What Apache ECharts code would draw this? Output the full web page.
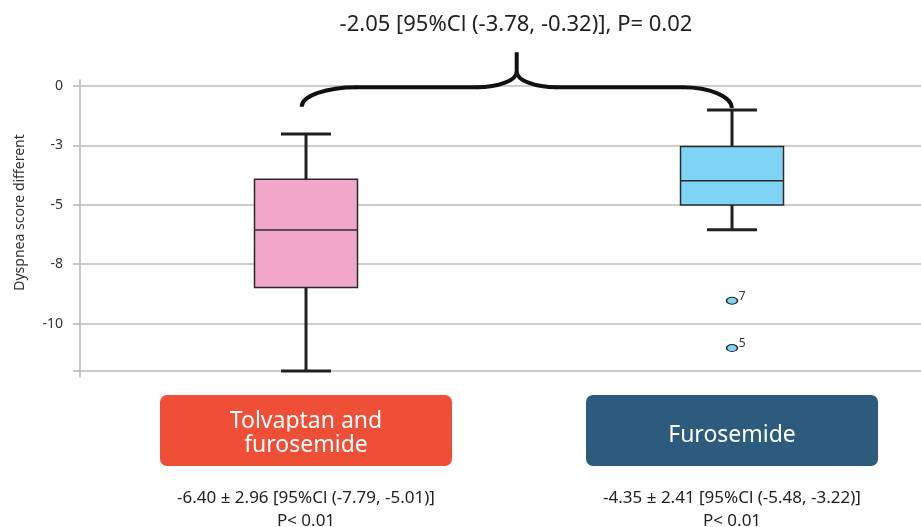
<!DOCTYPE html>
<html><head><meta charset="utf-8">
<script src="https://cdn.jsdelivr.net/npm/echarts@6/dist/echarts.min.js"></script>
<style>html,body{margin:0;padding:0;background:#fff}#c{width:921px;height:527px}</style>
</head><body><div id="c"></div>
<script>
// ---- data ----
const categories = ['Tolvaptan and\nfurosemide', 'Furosemide'];
const groupPositions = [1, 2];
const boxMin = [-12.0, -6.05];
const boxQ1 = [-8.48, -5.01];
const boxMedian = [-6.06, -3.99];
const boxQ3 = [-3.93, -2.55];
const boxMax = [-2.02, -1.01];
const statLines = ['-6.40 ± 2.96 [95%Cl (-7.79, -5.01)]', '-4.35 ± 2.41 [95%Cl (-5.48, -3.22)]'];
const statP = ['P< 0.01', 'P< 0.01'];
const outlierX = [2, 2];
const outlierY = [-9.04, -11.03];
const outlierLabels = ['7', '5'];
const yLabelValues = [0, -2.5, -5, -7.5, -10];
const yTickValues = [0, -2.5, -5, -7.5, -10, -12];
const comparisonText = '-2.05 [95%Cl (-3.78, -0.32)], P= 0.02';
const yAxisName = 'Dyspnea score different';

// ---- styles ----
const FONT = 'Noto Sans';
const boxColors = ['#f2a6c9', '#7fd3f5'];
const labelColors = ['#ef4f37', '#2c5b7e'];

const chart = echarts.init(document.getElementById('c'), null, {renderer: 'canvas'});

const boxData = groupPositions.map((x, i) => [x, boxMin[i], boxQ1[i], boxMedian[i], boxQ3[i], boxMax[i]]);

function renderBox(params, api) {
  const x = api.value(0);
  const pMin = api.coord([x, api.value(1)]);
  const pQ1 = api.coord([x, api.value(2)]);
  const pMed = api.coord([x, api.value(3)]);
  const pQ3 = api.coord([x, api.value(4)]);
  const pMax = api.coord([x, api.value(5)]);
  const bw = 103, cw = 50, cx = pMed[0];
  const ws = {stroke: '#231f20', lineWidth: 3};
  return {type: 'group', children: [
    {type: 'line', shape: {x1: cx, y1: pMax[1], x2: cx, y2: pQ3[1]}, style: ws},
    {type: 'line', shape: {x1: cx, y1: pQ1[1], x2: cx, y2: pMin[1]}, style: ws},
    {type: 'line', shape: {x1: cx - cw / 2, y1: pMax[1], x2: cx + cw / 2, y2: pMax[1]}, style: ws},
    {type: 'line', shape: {x1: cx - cw / 2, y1: pMin[1], x2: cx + cw / 2, y2: pMin[1]}, style: ws},
    {type: 'rect', shape: {x: cx - bw / 2, y: pQ3[1], width: bw, height: pQ1[1] - pQ3[1]},
      style: {fill: boxColors[params.dataIndex], stroke: '#2b2b2b', lineWidth: 1.5}},
    {type: 'line', shape: {x1: cx - bw / 2, y1: pMed[1], x2: cx + bw / 2, y2: pMed[1]},
      style: {stroke: '#2b2b2b', lineWidth: 1.5}}
  ]};
}

function xLabel(v) {
  const i = groupPositions.indexOf(v);
  if (i < 0) return '';
  const lines = categories[i].split('\n');
  let head;
  if (lines.length === 2) head = '{a' + i + '|' + lines[0] + '}\n{b' + i + '|' + lines[1] + '}';
  else head = '{c' + i + '|' + lines[0] + '}';
  return head + '\n{gap| }\n{s|' + statLines[i] + '}\n{s|' + statP[i] + '}';
}

const rich = {
  gap: {height: 21.5, lineHeight: 21.5, fontSize: 8},
  s: {fontSize: 17, lineHeight: 23, height: 23, color: '#222', fontFamily: FONT}
};
labelColors.forEach((col, i) => {
  const base = {width: 290, color: '#fff', fontSize: 23, fontFamily: FONT, align: 'center',
    backgroundColor: col, borderColor: col, borderWidth: 1};
  rich['a' + i] = Object.assign({}, base, {height: 16, padding: [17.7, 0, 2.8, 0], lineHeight: 36.5, borderRadius: [6, 6, 0, 0]});
  rich['b' + i] = Object.assign({}, base, {height: 16, padding: [4.5, 0, 12, 0], lineHeight: 32.5, borderRadius: [0, 0, 6, 6]});
  rich['c' + i] = Object.assign({}, base, {height: 23, padding: [27.5, 0, 18.5, 0], lineHeight: 69, borderRadius: 6});
});

const option = {
  animation: false,
  backgroundColor: '#fff',
  title: {
    text: comparisonText, left: 516, top: 14, textAlign: 'center', padding: 0,
    textStyle: {fontSize: 22, fontWeight: 'normal', color: '#222', fontFamily: FONT}
  },
  grid: {left: 80, right: 0, top: 80, bottom: 150, containLabel: false, outerBoundsMode: 'none'},
  xAxis: {
    type: 'value', min: 0.4695, max: 2.4436,
    axisLine: {show: false}, axisTick: {show: false}, splitLine: {show: false},
    axisLabel: {customValues: groupPositions, margin: 19, formatter: xLabel, rich: rich, hideOverlap: false}
  },
  yAxis: {
    type: 'value', min: -12.25, max: 0.25,
    name: yAxisName, nameLocation: 'middle', nameGap: 53, nameRotate: 90,
    nameTextStyle: {fontSize: 14, color: '#333', fontFamily: FONT, padding: [0, 0, 0, 32]},
    axisLine: {show: true, lineStyle: {color: '#b5b5b5', width: 1.5}},
    axisTick: {show: true, length: 7, customValues: yTickValues, lineStyle: {color: '#b5b5b5', width: 1.5}},
    axisLabel: {customValues: yLabelValues, margin: 17, fontSize: 14, color: '#333', fontFamily: FONT,
      formatter: v => String(-Math.round(-v))},
    splitLine: {show: true, lineStyle: {color: '#bdbdbd', width: 1.5}}
  },
  series: [
    {type: 'custom', name: 'box', renderItem: renderBox, data: boxData, encode: {x: 0, y: [1, 2, 3, 4, 5]}, z: 3},
    {type: 'scatter', name: 'outliers', z: 4,
      data: outlierY.map((y, i) => ({value: [outlierX[i], y], label: {formatter: outlierLabels[i]}})),
      symbol: 'path://M0,5a5,5 0 1,0 10,0a5,5 0 1,0 -10,0', symbolSize: [11, 7],
      itemStyle: {color: '#7fd3f5', borderColor: '#222', borderWidth: 1.2, opacity: 1},
      label: {show: true, position: [13, -6], fontSize: 12, color: '#333', fontFamily: FONT}}
  ]
};
chart.setOption(option);

// comparison brace between the two groups
const p1 = chart.convertToPixel({xAxisIndex: 0, yAxisIndex: 0}, [groupPositions[0], 0]);
const p2 = chart.convertToPixel({xAxisIndex: 0, yAxisIndex: 0}, [groupPositions[1], 0]);
const xl = p1[0] - 4.3, xr = p2[0] - 0.3, xm = (xl + xr) / 2;
const yh = p1[1] + 1.3, yEndL = yh + 19.4, yEndR = yh + 20.7, yJoin = yh - 15.6, yTip = yh - 35;
const K = 0.552;
const bs = {stroke: '#111', lineWidth: 4, fill: null, lineCap: 'butt'};
const curve = (x1, y1, cpx1, cpy1, cpx2, cpy2, x2, y2) =>
  ({type: 'bezierCurve', z: 100, shape: {x1, y1, cpx1, cpy1, cpx2, cpy2, x2, y2}, style: bs});
const seg = (x1, y1, x2, y2) => ({type: 'line', z: 100, shape: {x1, y1, x2, y2}, style: bs});
const wL = 55, wR = 49, wC = 40;
chart.setOption({graphic: [
  curve(xl, yEndL, xl, yEndL - K * (yEndL - yh), xl + wL * (1 - K), yh, xl + wL, yh),
  seg(xl + wL - 1, yh, xm - wC + 1, yh),
  curve(xm - wC, yh, xm - wC * (1 - K), yh, xm, yJoin + K * (yh - yJoin), xm, yJoin),
  seg(xm, yJoin + 1, xm, yTip),
  curve(xm, yJoin, xm, yJoin + K * (yh - yJoin), xm + wC * (1 - K), yh, xm + wC, yh),
  seg(xm + wC - 1, yh, xr - wR + 1, yh),
  curve(xr - wR, yh, xr - wR * (1 - K), yh, xr, yEndR - K * (yEndR - yh), xr, yEndR)
]});
</script>
</body></html>
